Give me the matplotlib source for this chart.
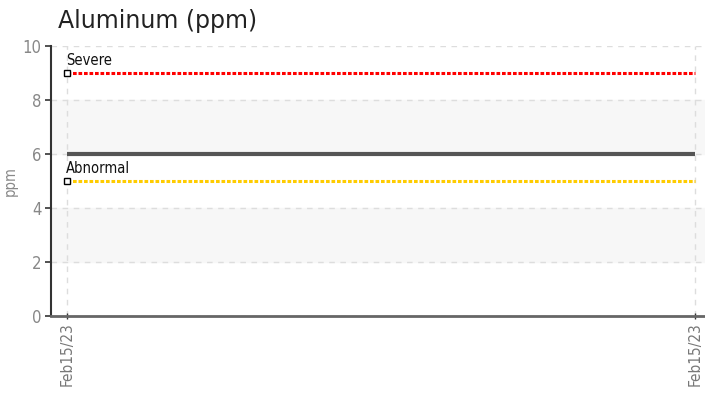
import matplotlib
matplotlib.use('agg')
import matplotlib.pyplot as plt

# data
dates = ['Feb15/23', 'Feb15/23']
values = [6, 6]
severe = [9, 9]
abnormal = [5, 5]
yticks = [0, 2, 4, 6, 8, 10]

plt.rcParams['font.family'] = ['DejaVu Sans']
plt.rcParams['font.stretch'] = 'condensed'

fig = plt.figure(figsize=(7.05, 3.94), dpi=100)
ax = fig.add_axes([51 / 705, 78 / 394, 654 / 705, 270 / 394])

x = list(range(len(dates)))
ax.set_xlim(-16 / 628, (705 - 67) / 628)
ax.set_ylim(0, 10)

# alternating bands
for lo in (2, 6):
    ax.axhspan(lo, lo + 2, color='#f7f7f7', zorder=0)

ax.grid(True, color='#dddddd', linestyle=(0, (4, 4)), linewidth=1)
ax.set_axisbelow(True)

ax.plot(x, values, color='#555555', linewidth=3, solid_capstyle='butt', zorder=3)
ax.plot(x, severe, color='#ff0000', linewidth=2.2, linestyle=(0, (1.2, 0.6)), zorder=3)
ax.plot(x, abnormal, color='#ffcc00', linewidth=2.2, linestyle=(0, (1.2, 0.6)), zorder=3)
ax.plot([x[0]], [severe[0]], marker='s', markersize=5, markerfacecolor='white',
        markeredgecolor='black', markeredgewidth=1, zorder=4, clip_on=False)
ax.plot([x[0]], [abnormal[0]], marker='s', markersize=5, markerfacecolor='white',
        markeredgecolor='black', markeredgewidth=1, zorder=4, clip_on=False)
ax.text(x[0] - 0.002, severe[0] + 0.18, 'Severe', fontsize=10.5, color='#111111', va='bottom', ha='left')
ax.text(x[0] - 0.002, abnormal[0] + 0.18, 'Abnormal', fontsize=10.5, color='#111111', va='bottom', ha='left')

ax.set_xticks(x)
ax.set_xticklabels(dates, rotation=90, color='#777777', fontsize=11)
ax.set_yticks(yticks)
ax.set_yticklabels([str(v) for v in yticks], color='#888888', fontsize=12)
ax.tick_params(axis='y', length=4, width=1.2, color='#333333', pad=3)
ax.tick_params(axis='x', length=5, width=1, color='#333333', direction='inout', pad=2)

for side in ('top', 'right'):
    ax.spines[side].set_visible(False)
ax.spines['left'].set_color('#333333')
ax.spines['left'].set_linewidth(1.5)
ax.spines['bottom'].set_color('#666666')
ax.spines['bottom'].set_linewidth(2)

ax.set_ylabel('ppm', color='#888888', fontsize=10.5)
ax.yaxis.set_label_coords(-33 / 654, 0.5)

fig.text(58 / 705, 1 - 21 / 394, 'Aluminum (ppm)', fontsize=17, family='DejaVu Sans',
         stretch='normal', color='#222222', va='center', ha='left')

plt.savefig('out.png')
